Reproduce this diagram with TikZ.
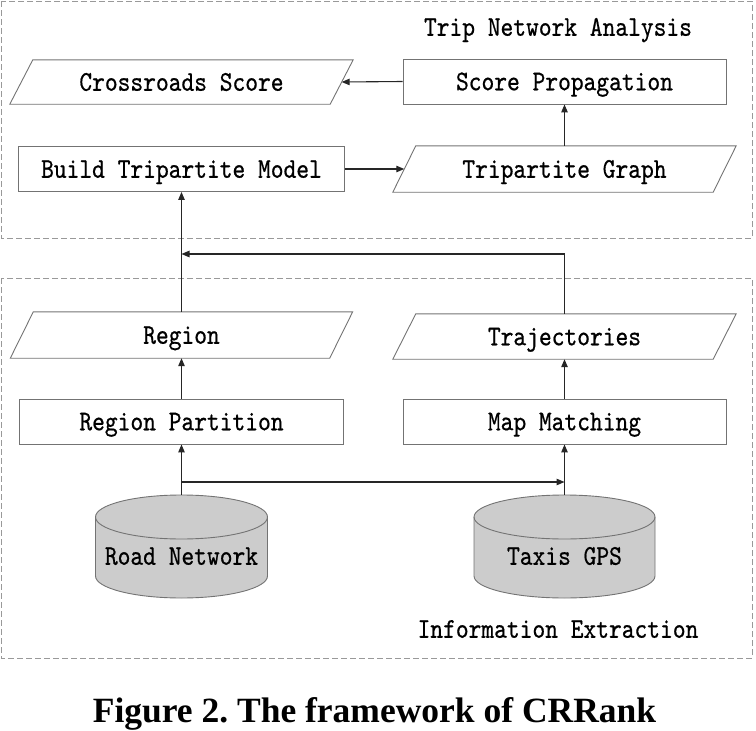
\documentclass[tikz,border=0pt]{standalone}
\usepackage{fontspec}
\usetikzlibrary{arrows.meta,calc}
\newfontfamily\boxfont{lmmono10-regular.otf}[FakeStretch=0.85,FakeBold=0.6]
\newfontfamily\capfont{Liberation Serif}
\definecolor{boxline}{gray}{0.45}
\definecolor{dashline}{gray}{0.6}
\definecolor{cylfill}{gray}{0.8}
\definecolor{arrline}{gray}{0.15}
\begin{document}
\frenchspacing
\begin{tikzpicture}[x=1pt,y=-1pt,
  lbl/.style={font=\boxfont\fontsize{28.6}{30}\selectfont, text height=17.5pt, text depth=0pt, inner sep=0pt},
  rectbox/.style={lbl, draw=boxline, line width=0.9pt, minimum height=45pt},
  parabox/.style={lbl, minimum height=45pt},
  paraline/.style={draw=boxline, line width=0.9pt},
  cylbox/.style={lbl, minimum height=103pt},
  group/.style={draw=dashline, line width=0.9pt, dash pattern=on 6pt off 3pt},
  arr/.style={draw=arrline, line width=1.1pt, -{Triangle[length=8pt,width=6.5pt]}}
]
\useasboundingbox (0,0) rectangle (756,731);

% group frames
\draw[group] (1,1) rectangle (752,238);
\draw[group] (1,278) rectangle (752,658);
\node[lbl] (titleA) at (558,27) {Trip Network Analysis};
\node[lbl] (titleB) at (558,629) {Information Extraction};

% rectangles
\node[rectbox, minimum width=326pt] (btm) at (181.5,169) {Build Tripartite Model};
\node[rectbox, minimum width=323pt] (sp) at (564.5,81.5) {Score Propagation};
\node[rectbox, minimum width=324pt] (rp) at (181.5,421.5) {Region Partition};
\node[rectbox, minimum width=323pt] (mm) at (564.5,421.5) {Map Matching};

% parallelograms
\node[parabox, minimum width=320pt, minimum height=44pt] (cs) at (181.5,82) {Crossroads Score};
\node[parabox, minimum width=320pt, minimum height=46pt] (tg) at (564.5,169) {Tripartite Graph};
\node[parabox, minimum width=319pt, minimum height=46pt] (rg) at (181.5,335) {Region};
\node[parabox, minimum width=320pt, minimum height=45pt] (tj) at (564.5,336.5) {Trajectories};
\foreach \n in {cs,tg,rg,tj}{
  \draw[paraline] ($(\n.north west)+(11.5,0)$) -- ($(\n.north east)+(11.5,0)$)
    -- ($(\n.south east)+(-11.5,0)$) -- ($(\n.south west)+(-11.5,0)$) -- cycle;
}

% cylinders
\node[cylbox, minimum width=172pt] (road) at (181.5,546.5) {};
\node[cylbox, minimum width=181pt] (taxi) at (564.5,546.5) {};
\foreach \n/\rx in {road/86,taxi/90.5}{
  \draw[draw=boxline, fill=cylfill, line width=0.9pt]
    ($(\n.center)+(-\rx,-29.5)$) -- ($(\n.center)+(-\rx,29.5)$)
    arc[start angle=180, end angle=0, x radius=\rx, y radius=22]
    -- ($(\n.center)+(\rx,-29.5)$)
    arc[start angle=0, end angle=-180, x radius=\rx, y radius=22] -- cycle;
  \draw[draw=boxline, line width=0.9pt]
    ($(\n.center)+(-\rx,-29.5)$) arc[start angle=180, end angle=0, x radius=\rx, y radius=22];
}
\node[lbl] (roadtxt) at (181.5,556) {Road Network};
\node[lbl] (taxitxt) at (564.5,556) {Taxis GPS};

% connectors
\draw[arr] (sp.west) -- (cs.east);
\draw[arr] (btm.east) -- (tg.west);
\draw[arr] (tg.north) -- (sp.south);
\draw[arr] (rg.north) -- (btm.south);
\coordinate (join) at (181.5,254);
\draw[arr] (tj.north) |- (join);
\draw[arr] (rp.north) -- (rg.south);
\draw[arr] (mm.north) -- (tj.south);
\draw[arr] (road.north) -- (rp.south);
\draw[arr] (taxi.north) -- (mm.south);
\coordinate (fork) at (181.5,482);
\draw[arr] (fork) -- (fork -| mm.south);

% caption
\node[font=\capfont\bfseries\fontsize{35.5}{38}\selectfont, anchor=base, inner sep=0pt] (cap) at (374.5,722) {Figure 2. The framework of CRRank};
\end{tikzpicture}
\end{document}
